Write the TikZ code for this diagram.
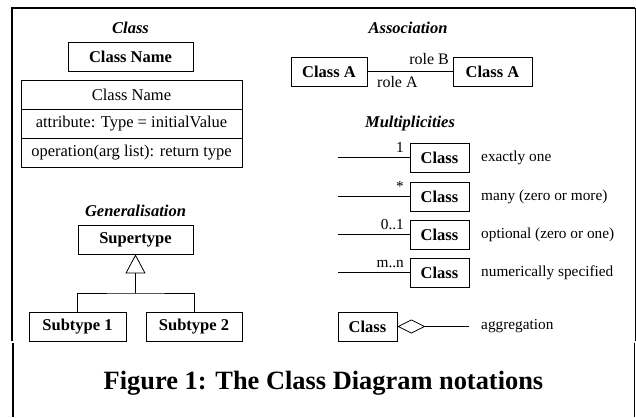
\documentclass[tikz,border=0pt]{standalone}
\usepackage{fontspec}
\setmainfont{Liberation Serif}
\usetikzlibrary{arrows.meta,calc}

\begin{document}
\begin{tikzpicture}[x=1bp,y=-1bp,
  every node/.style={font=\fontsize{16.5bp}{18bp}\selectfont,inner sep=0pt},
  classbox/.style={draw,line width=0.8bp,minimum height=29bp,font=\fontsize{16.5bp}{18bp}\selectfont\bfseries},
  compartment/.style={draw,line width=0.8bp,minimum height=29bp,minimum width=221bp},
  heading/.style={anchor=base,font=\fontsize{16.5bp}{18bp}\selectfont\bfseries\itshape},
  remark/.style={anchor=west,font=\fontsize{15.3bp}{17bp}\selectfont},
  mult/.style={anchor=base east,font=\fontsize{15.3bp}{17bp}\selectfont},
  link/.style={line width=0.8bp}]
\useasboundingbox (0,0) rectangle (636,417);

\draw[line width=2bp] (12,341) -- (12,8) -- (635,8);
\draw[line width=2bp] (12.5,343) -- (12.5,417);
\draw[line width=1bp] (635,8) -- (635,341);
\draw[line width=1bp] (634.5,343) -- (634.5,417);

% class
\node[heading] (tclass) at (130.5,33) {Class};
\node[classbox,minimum width=125bp] (cname) at (130.5,56.5) {Class Name};
\node[compartment] (cname2) at (131.5,94.5) {Class Name};
\node[compartment] (cattr) at (131.5,123.5) {attribute: Type = initialValue};
\node[compartment] (cop) at (131.5,152.5) {operation(arg list): return type};

% association
\node[heading] (tassoc) at (408,33) {Association};
\node[classbox,minimum width=76bp] (ca) at (329,71.5) {Class A};
\node[classbox,minimum width=79bp] (cb) at (492.5,71.5) {Class A};
\draw[link] (ca) -- (cb);
\node[mult,font=\fontsize{16bp}{18bp}\selectfont] (roleb) at (449,64) {role B};
\node[anchor=base west,font=\fontsize{16bp}{18bp}\selectfont] (rolea) at (377,87) {role A};

% multiplicities
\node[heading] (tmult) at (410,127) {Multiplicities};
\foreach \y/\m/\d [count=\i] in {157.5/1/exactly one,196.5/*/many (zero or more),
    234.5/0..1/optional (zero or one),272.5/m..n/numerically specified}{
  \node[classbox,minimum width=59bp] (m\i) at (439.5,\y) {Class};
  \coordinate (l\i) at (338,\y);
  \draw[link] (l\i) -- (m\i.west);
  \node[mult] (n\i) at (404,\y-5.5) {\m};
  \node[remark] (d\i) at (481,\y) {\d};
}

% aggregation
\node[classbox,minimum width=59bp] (agg) at (367.5,326.5) {Class};
\coordinate (aggend) at (469,326.5);
\draw[link,-{Diamond[open,length=28bp,width=14bp]}] (aggend) -- (agg.east);
\node[remark] (dagg) at (481,326.5) {aggregation};

% generalisation
\node[heading] (tgen) at (135.5,216) {Generalisation};
\node[classbox,minimum width=115bp] (super) at (135.5,239.5) {Supertype};
\node[classbox,minimum width=97bp] (sub1) at (77.5,326.5) {Subtype 1};
\node[classbox,minimum width=96bp] (sub2) at (194,326.5) {Subtype 2};
\coordinate (join) at (135.5,293);
\draw[link] (sub1.north) |- (join) -| (sub2.north);
\draw[link,-{Triangle[open,length=19bp,width=20bp]}] (join) -- (super.south);

\node[anchor=base,font=\fontsize{26.4bp}{30bp}\selectfont\bfseries] (caption) at (323.5,389) {Figure 1: The Class Diagram notations};

\end{tikzpicture}
\end{document}
